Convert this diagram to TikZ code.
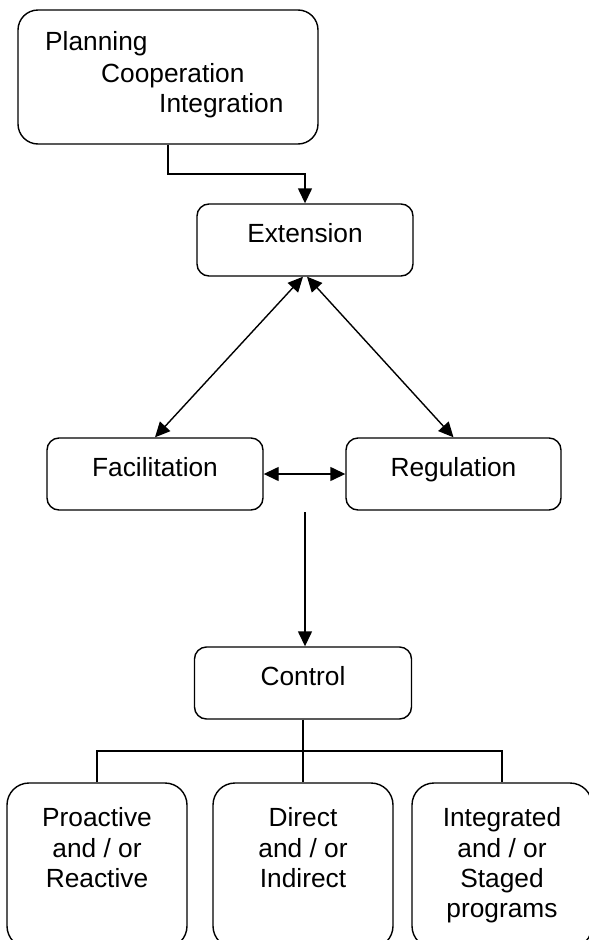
\documentclass[tikz,border=0pt]{standalone}
\usepackage{fontspec}
\setmainfont{Liberation Sans}
\usetikzlibrary{arrows.meta,calc}
\begin{document}
\begin{tikzpicture}[x=1pt,y=-1pt,
  box/.style={draw, line width=1.4pt, rounded corners=12pt, inner sep=0pt},
  txt/.style={font=\fontsize{26.3}{30.5}\selectfont, inner sep=0pt, anchor=base},
  conn/.style={line width=1.4pt},
  arr/.style={conn, -{Triangle[length=15pt,width=14pt]}},
  darr/.style={conn, {Triangle[length=15pt,width=14pt]}-{Triangle[length=15pt,width=14pt]}}]
\useasboundingbox (0,0) rectangle (589,940);
\clip (0,0) rectangle (589,940);
% top box
\node[box, rounded corners=20pt, minimum width=300pt, minimum height=134pt] (top) at (168,77) {};
\node[txt, anchor=base west] (plan) at (45,50) {Planning};
\node[txt, anchor=base west] (coop) at (101,82) {Cooperation};
\node[txt, anchor=base west] (integ) at (159,112) {Integration};
% middle boxes
\node[box, minimum width=216pt, minimum height=72pt] (ext) at (305,240) {};
\node[txt] (extt) at (305,242) {Extension};
\node[box, minimum width=216pt, minimum height=72pt] (fac) at (155,474) {};
\node[txt] (fact) at (155,476) {Facilitation};
\node[box, minimum width=215pt, minimum height=72pt] (reg) at (453.5,474) {};
\node[txt] (regt) at (453.5,476) {Regulation};
\node[box, minimum width=217pt, minimum height=72pt] (ctl) at (303,683) {};
\node[txt] (ctlt) at (303,685) {Control};
% bottom boxes
\node[box, rounded corners=22pt, minimum width=180pt, minimum height=165pt] (b1) at (97,865.5) {};
\node[txt] (b1a) at (97,826) {Proactive};
\node[txt] (b1b) at (97,857) {and / or};
\node[txt] (b1c) at (97,887) {Reactive};
\node[box, rounded corners=22pt, minimum width=180pt, minimum height=165pt] (b2) at (303,865.5) {};
\node[txt] (b2a) at (303,826) {Direct};
\node[txt] (b2b) at (303,857) {and / or};
\node[txt] (b2c) at (303,887) {Indirect};
\node[box, rounded corners=22pt, minimum width=180pt, minimum height=165pt] (b3) at (502,865.5) {};
\node[txt] (b3a) at (502,826) {Integrated};
\node[txt] (b3b) at (502,857) {and / or};
\node[txt] (b3c) at (502,887) {Staged};
\node[txt] (b3d) at (502,917) {programs};
% connectors
\draw[arr] (top.south) |- ($(top.south)!.5!(ext.north)$) -| (ext.north);
\draw[darr] ([xshift=-2pt]ext.south) -- (fac.north);
\draw[darr] ([xshift=2pt]ext.south) -- (reg.north);
\draw[darr] (fac.east) -- (reg.west);
\coordinate (vs) at (305,512);
\draw[arr] (vs) -- (vs |- ctl.north);
\coordinate (jn) at ($(ctl.south)!.5!(b2.north)$);
\draw[conn, line width=2pt] (ctl.south) -- (jn);
\draw[conn] (b1.north) |- (jn) -| (b3.north);
\draw[conn] (jn) -- (b2.north);
\end{tikzpicture}
\end{document}
